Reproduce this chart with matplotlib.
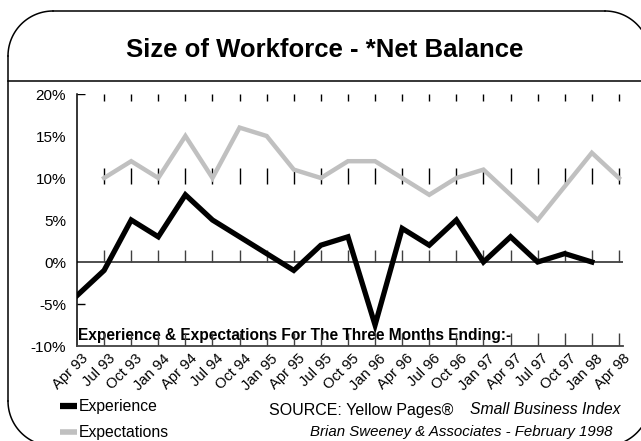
import numpy as np
import matplotlib
matplotlib.use("Agg")
import matplotlib.pyplot as plt

plt.rcParams['font.family'] = ['Liberation Sans', 'DejaVu Sans']

# data
quarters = ['Apr 93', 'Jul 93', 'Oct 93', 'Jan 94', 'Apr 94', 'Jul 94', 'Oct 94',
            'Jan 95', 'Apr 95', 'Jul 95', 'Oct 95', 'Jan 96', 'Apr 96', 'Jul 96',
            'Oct 96', 'Jan 97', 'Apr 97', 'Jul 97', 'Oct 97', 'Jan 98', 'Apr 98']
experience = [-4, -1, 5, 3, 8, 5, 3, 1, -1, 2, 3, -7.5, 4, 2, 5, 0, 3, 0, 1, 0, None]
expectations = [None, 10, 12, 10, 15, 10, 16, 15, 11, 10, 12, 12, 10, 8, 10, 11, 8, 5, 9, 13, 10]
y_ticks = [-10, -5, 0, 5, 10, 15, 20]

exp_arr = np.array([np.nan if v is None else v for v in experience], dtype=float)
expt_arr = np.array([np.nan if v is None else v for v in expectations], dtype=float)
x = np.arange(len(quarters))

W, H = 641, 441
fig = plt.figure(figsize=(W / 100, H / 100), dpi=100)

# background frame in pixel coords
bg = fig.add_axes([0, 0, 1, 1], zorder=0)
bg.set_xlim(0, W)
bg.set_ylim(H, 0)
bg.axis('off')


def rounded_arc(cx, cy, r, a0, a1):
    t = np.radians(np.linspace(a0, a1, 40))
    return cx + r * np.cos(t), cy + r * np.sin(t)


# rounded outline: only the parts that fall inside the picture
r = 45
x0, y0, x1, y1 = 8, 11, 650, 446
segs = [
    ([x0 + r, x1 - r], [y0, y0]),
    rounded_arc(x1 - r, y0 + r, r, -90, -37),
    rounded_arc(x1 - r, y1 - r, r, 37, 90),
    rounded_arc(x0 + r, y1 - r, r, 90, 180),
    ([x0, x0], [y1 - r, y0 + r]),
    rounded_arc(x0 + r, y0 + r, r, 180, 270),
]
for sx, sy in segs:
    bg.plot(sx, sy, color='black', lw=1.1)
bg.plot([x0, W], [81, 81], color='black', lw=1.1)
bg.text(325, 50, 'Size of Workforce - *Net Balance', ha='center', va='center',
        fontsize=18.5, fontweight='bold')

# legend
bg.plot([60, 77], [406, 406], color='black', lw=4.5, solid_capstyle='butt')
bg.text(79, 406, 'Experience', va='center', fontsize=11.3)
bg.plot([60, 77], [432, 432], color='#c0c0c0', lw=4, solid_capstyle='butt')
bg.text(79, 432, 'Expectations', va='center', fontsize=11.3)

# source
bg.text(269, 410, 'SOURCE: Yellow Pages®', va='center', fontsize=11.5)
bg.text(620, 410, 'Small Business Index', va='center', ha='right', fontsize=11.3, style='italic')
bg.text(613, 432, 'Brian Sweeney & Associates - February 1998', va='center', ha='right',
        fontsize=10.8, style='italic')

# main chart
ax = fig.add_axes([77 / W, 1 - 346 / H, (623 - 77) / W, (346 - 94) / H], zorder=1)
ax.patch.set_alpha(0)
ax.set_xlim(0, len(quarters) - 1)
ax.set_ylim(-10, 20)

ax.plot(x, expt_arr, color='#c0c0c0', lw=3.2, solid_joinstyle='miter', zorder=3)
ax.plot(x, exp_arr, color='black', lw=3.8, solid_joinstyle='miter', zorder=4)

ax.axhline(0, color='#404040', lw=1.3, zorder=2)
for s in ['top', 'right']:
    ax.spines[s].set_visible(False)
ax.spines['bottom'].set_color('#404040')
ax.spines['bottom'].set_linewidth(1.3)
ax.spines['left'].set_color('black')
ax.spines['left'].set_linewidth(1.1)

# category tick marks at several levels
ax.vlines(x[1:], 19.2, 20, color='black', lw=1, zorder=2)
ax.vlines(x[1:], 9.3, 11.2, color='black', lw=1, zorder=2)
ax.vlines(x[1:], 0, 1.4, color='#404040', lw=1, zorder=2)
ax.vlines(x[1:], -10, -8.4, color='#404040', lw=1, zorder=2)
ax.hlines([20, -5], 0, 0.28, color='black', lw=1, zorder=2)

ax.set_yticks(y_ticks)
ax.set_yticklabels([f'{v}%' for v in y_ticks], fontsize=11)
ax.tick_params(axis='y', length=0, pad=8)
ax.set_xticks(x + 0.15)
ax.set_xticklabels(quarters, rotation=45, ha='right', va='top', rotation_mode='anchor', fontsize=10.6)
ax.tick_params(axis='x', length=0, pad=4)

ax.text(0.05, -9.6, 'Experience & Expectations For The Three Months Ending:-', fontsize=11.2,
        fontweight='bold', va='bottom', zorder=1)

fig.savefig('out.png', dpi=100)
